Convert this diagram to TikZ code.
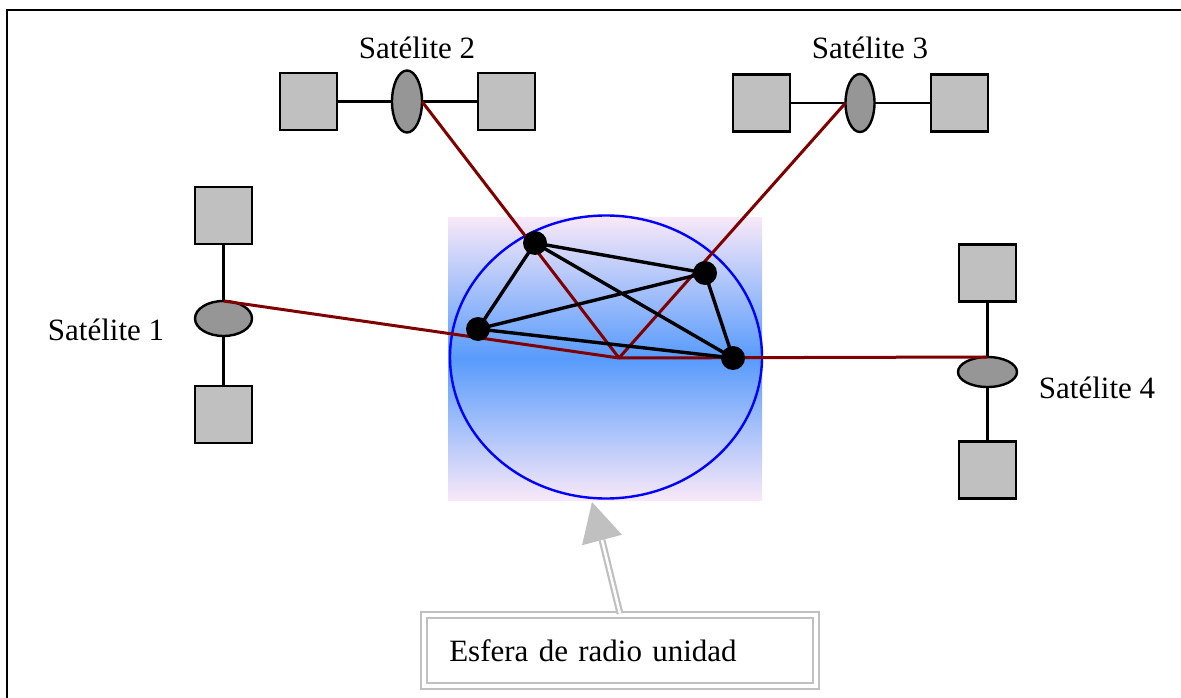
\documentclass[tikz,border=0pt]{standalone}
\usepackage{fontspec}
\setmainfont{Liberation Serif}
\usetikzlibrary{shapes.geometric,calc}
\definecolor{boxgray}{RGB}{192,192,192}
\definecolor{dishgray}{RGB}{150,150,150}
\definecolor{linkred}{RGB}{128,0,0}
\definecolor{skyblue}{RGB}{88,155,252}
\definecolor{haze}{RGB}{248,232,248}
\begin{document}
\begin{tikzpicture}[x=1pt,y=-1pt,
  every node/.style={font=\fontsize{31}{36}\selectfont},
  panel/.style={draw=black, fill=boxgray, line width=2.6pt, rectangle, minimum size=57pt, inner sep=0pt, outer sep=0pt},
  dish/.style={draw=black, fill=dishgray, line width=2.4pt, ellipse, inner sep=0pt, outer sep=0pt},
  boom/.style={draw=black, line width=2.4pt},
  link/.style={draw=linkred, line width=3pt},
  edge/.style={draw=black, line width=3.4pt},
  vertex/.style={circle, fill=black, minimum size=24pt, inner sep=0pt},
  label/.style={inner sep=0pt}]
\useasboundingbox (0,0) rectangle (1181,698);

% frame (top and left rules)
\draw[line width=2.6pt] (7,698) -- (7,10) -- (1181,10);

% unit sphere with graded fill
\shade[top color=haze, bottom color=haze, middle color=skyblue] (448,217) rectangle (762,500);
\node[ellipse, draw=blue, line width=2.4pt, minimum width=312pt, minimum height=283pt, inner sep=0pt] (sphere) at (606,357) {};
\coordinate (O) at (619,358);

% satellite 2
\node[panel] (s2l) at (308.5,101.5) {};
\node[panel] (s2r) at (506.5,101.5) {};
\node[dish, minimum width=30pt, minimum height=62pt] (s2e) at (407,101.5) {};
\draw[boom] (s2l.east) -- (s2e.west);
\draw[boom] (s2e.east) -- (s2r.west);
\node[label] (t2) at (417,48) {Satélite 2};

% satellite 3
\node[panel] (s3l) at (761.5,103) {};
\node[panel] (s3r) at (959.5,103) {};
\node[dish, minimum width=29pt, minimum height=58pt] (s3e) at (860,103) {};
\draw[boom] (s3l.east) -- (s3e.west);
\draw[boom] (s3e.east) -- (s3r.west);
\node[label] (t3) at (870,48) {Satélite 3};

% satellite 1
\node[panel] (s1t) at (223.5,215.5) {};
\node[panel] (s1b) at (223.5,414.5) {};
\node[dish, minimum width=57pt, minimum height=35pt] (s1e) at (223.5,318.5) {};
\draw[boom] (s1t.south) -- (s1e.north);
\draw[boom] (s1e.south) -- (s1b.north);
\node[label] (t1) at (106,330) {Satélite 1};

% satellite 4
\node[panel] (s4t) at (987.5,273) {};
\node[panel] (s4b) at (987.5,470) {};
\node[dish, minimum width=59pt, minimum height=30pt] (s4e) at (987.5,372) {};
\draw[boom] (s4t.south) -- (s4e.north);
\draw[boom] (s4e.south) -- (s4b.north);
\node[label] (t4) at (1097,388) {Satélite 4};

% links from each satellite to the sphere centre
\draw[link] (s2e.east) -- (O);
\draw[link] (s3e.west) -- (O);
\draw[link] (s1e.north) -- (O);
\draw[link] (s4e.north) -- (O);

% projected points and their complete graph
\coordinate (pa) at (535,243);
\coordinate (pb) at (705,273);
\coordinate (pc) at (478,329);
\coordinate (pd) at (733,358);
\draw[edge] (pa) -- (pb) (pa) -- (pc) (pa) -- (pd) (pc) -- (pb) (pc) -- (pd) (pb) -- (pd);
\node[vertex] (a) at (pa) {};
\node[vertex] (b) at (pb) {};
\node[vertex] (c) at (pc) {};
\node[vertex] (d) at (pd) {};

% caption box with pointer
\node[draw=boxgray, double, double distance=4pt, line width=2.2pt, rectangle,
      minimum width=391.5pt, minimum height=71.5pt, inner xsep=25pt, inner ysep=0pt,
      text width=341.5pt, align=left] (box) at (620,650.5) {Esfera de radio unidad};
\coordinate (tip) at (592,502);
\coordinate (hb) at (602,540);
\draw[draw=boxgray, line width=2.2pt, double=white, double distance=2.5pt] (box.north) -- (hb);
\fill[boxgray] (tip) -- ($(hb)!0.525!90:(tip)$) -- ($(hb)!0.525!-90:(tip)$) -- cycle;
\end{tikzpicture}
\end{document}
